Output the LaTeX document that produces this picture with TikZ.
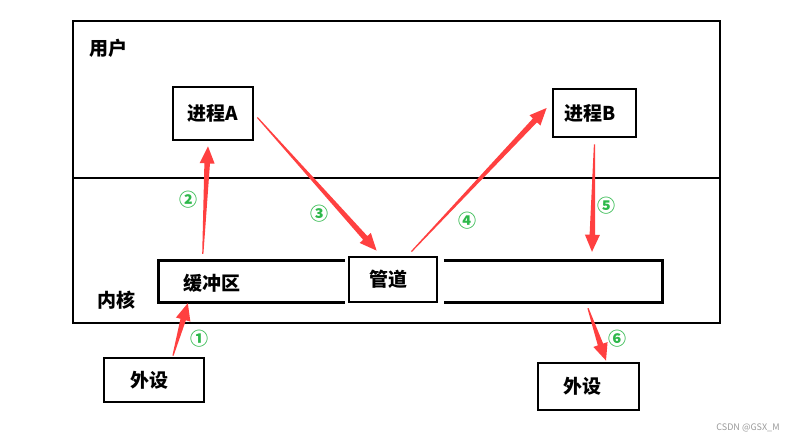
\documentclass[tikz,border=0pt]{standalone}
\usepackage{fontspec}
\usepackage{tikz}
\usetikzlibrary{positioning,calc}
\newfontfamily\cjk{Noto Sans CJK SC}
\definecolor{pipered}{HTML}{FF4040}
\definecolor{stepgreen}{HTML}{2DB84A}
\definecolor{markgray}{HTML}{9A9A9A}
\tikzset{
    boxnode/.style={draw=black, line width=2.8pt, inner sep=0pt,
        font=\cjk\bfseries\fontsize{19}{22}\selectfont},
    stripnode/.style={inner sep=0pt},
    stripline/.style={draw=black, line width=2.8pt},
    arealabel/.style={font=\cjk\bfseries\fontsize{19}{22}\selectfont, inner sep=0pt},
    stepno/.style={font=\cjk\bfseries\fontsize{18}{20}\selectfont, text=stepgreen, inner sep=0pt},
}
% tapered red arrow: #1 tail, #2 tip
\newcommand{\brusharrow}[2]{%
    \path #1 coordinate (bt) #2 coordinate (bh);
    \coordinate (bb) at ($(bh)!17pt!(bt)$);
    \fill[pipered] ($(bt)!0.6pt!90:(bh)$) -- ($(bb)!2.8pt!90:(bh)$)
        -- ($(bb)!7.5pt!90:(bh)$) -- (bh) -- ($(bb)!7.5pt!-90:(bh)$)
        -- ($(bb)!2.8pt!-90:(bh)$) -- ($(bt)!0.6pt!-90:(bh)$) -- cycle;
}

\begin{document}
\begin{tikzpicture}[x=1pt, y=-1pt]

    \useasboundingbox[fill=white] (0,0) rectangle (798,444);

    % ── User / kernel frame ────────────────────────────────────────────────
    \draw[stripline] (73,21) rectangle (720,323);
    \draw[stripline] (73,178) -- (720,178);
    \node[arealabel] (user) at (108,48) {用户};
    \node[arealabel] (kernel) at (116,300) {内核};

    % ── Processes ──────────────────────────────────────────────────────────
    \node[boxnode, minimum width=80, minimum height=53] (procA) at (213,113.5) {进程A};
    \node[boxnode, minimum width=83, minimum height=48] (procB) at (594.5,113) {\kern-9pt进程B};

    % ── Kernel buffer, pipe and the open strip ─────────────────────────────
    \node[stripnode, minimum width=186, minimum height=41] (buf) at (252,281.5) {};
    \draw[stripline] (buf.north east) -- (buf.north west) -- (buf.south west) -- (buf.south east);
    \node[arealabel] (buftext) at (212,283) {缓冲区};

    \node[boxnode, minimum width=88, minimum height=45] (pipe) at (393,279.5) {\kern-10pt管道};

    \node[stripnode, minimum width=218, minimum height=41] (rstrip) at (553,281.5) {};
    \draw[stripline] (rstrip.north west) -- (rstrip.north east) -- (rstrip.south east) -- (rstrip.south west);

    % ── Devices ────────────────────────────────────────────────────────────
    \node[boxnode, minimum width=100, minimum height=44] (devL) at (154,380) {\kern-10pt外设};
    \node[boxnode, minimum width=101, minimum height=47] (devR) at (588.5,386.5) {\kern-12pt外设};

    % ── Data flow ──────────────────────────────────────────────────────────
    \brusharrow{($(devL.north)+(19,-1)$)}{($(buf.south west)+(29,1)$)}
    \brusharrow{($(buf.north west)+(44,-7)$)}{($(procA.south)+(-5,5)$)}
    \brusharrow{($(procA.east)+(3,4)$)}{($(pipe.north west)+(29,-5)$)}
    \brusharrow{($(pipe.north east)+(-27,-4)$)}{($(procB.west)+(-5,-5)$)}
    \brusharrow{($(procB.south)+(0,6)$)}{($(rstrip.north)+(39,-9)$)}
    \brusharrow{($(rstrip.south)+(35,6)$)}{($(devR.north)+(17.5,-1)$)}

    % ── Step numbers ───────────────────────────────────────────────────────
    \node[stepno] (s1) at (199,339) {①};
    \node[stepno] (s2) at (188,200) {②};
    \node[stepno] (s3) at (319,214) {③};
    \node[stepno] (s4) at (467,221) {④};
    \node[stepno] (s5) at (606,206) {⑤};
    \node[stepno] (s6) at (617,339) {⑥};

    \node[font=\cjk\fontsize{9}{11}\selectfont, text=markgray] (mark) at (748,428) {CSDN @GSX\_M};

\end{tikzpicture}
\end{document}
